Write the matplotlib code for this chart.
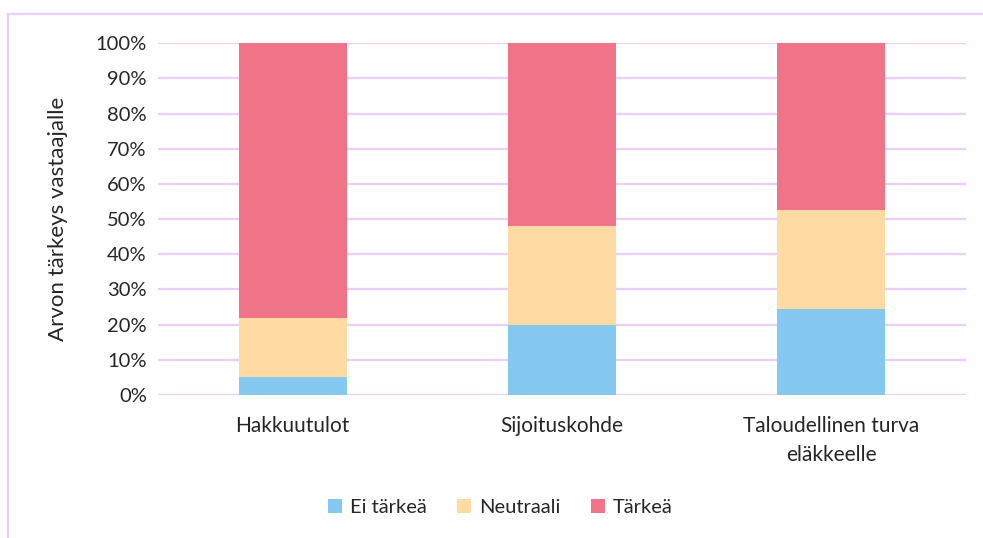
import matplotlib.pyplot as plt
from matplotlib.lines import Line2D
import numpy as np

plt.rcParams['font.family'] = ['Lato', 'DejaVu Sans']

categories = ['Hakkuutulot', 'Sijoituskohde', 'Taloudellinen turva\neläkkeelle']
series = ['Ei tärkeä', 'Neutraali', 'Tärkeä']
ei_tarkea = [5, 20, 24.5]
neutraali = [17, 28, 28]
tarkea = [78, 52, 47.5]
colors = ['#85C8F0', '#FFDBA3', '#F07488']
grid_col = '#EBCFFA'

fig = plt.figure(figsize=(9.83, 5.38), dpi=100)
ax = fig.add_axes([0.1607, 0.2658, 0.822, 0.654])

x = np.arange(len(categories))
bottom = np.zeros(len(categories))
for vals, name, c in zip([ei_tarkea, neutraali, tarkea], series, colors):
    ax.bar(x, vals, 0.4, bottom=bottom, color=c, label=name, zorder=3)
    bottom += np.array(vals)

ax.set_xlim(-0.5, 2.5)
ax.set_ylim(0, 100)
ax.set_yticks(np.arange(0, 101, 10))
ax.set_yticklabels([f'{v}%' for v in range(0, 101, 10)])
ax.set_xticks(x)
ax.set_xticklabels(categories, linespacing=1.6)
ax.tick_params(axis='y', length=0, labelsize=14.5, colors='#262626', pad=8)
ax.tick_params(axis='x', length=0, labelsize=15, colors='#262626', pad=15)
ax.yaxis.grid(True, color=grid_col, linewidth=1.6, zorder=0)
ax.set_axisbelow(True)
for s in ax.spines.values():
    s.set_visible(False)
ax.set_ylabel('Arvon tärkeys vastaajalle', fontsize=16, color='#262626', labelpad=20)

ax.legend(loc='center', bbox_to_anchor=(0.424, -0.32), ncol=3, frameon=False,
          fontsize=14.5, handlelength=0.7, handleheight=0.7, columnspacing=1.5,
          handletextpad=0.4, labelcolor='#262626')

# chart-area border: only top and left edges fall inside the picture
top = 1 - 14 / 538
left = 8 / 983
fig.add_artist(Line2D([left, 1.0], [top, top], transform=fig.transFigure,
                      color=grid_col, linewidth=1.6))
fig.add_artist(Line2D([left, left], [0.0, top], transform=fig.transFigure,
                      color=grid_col, linewidth=1.6))

fig.savefig('out.png', dpi=100)
